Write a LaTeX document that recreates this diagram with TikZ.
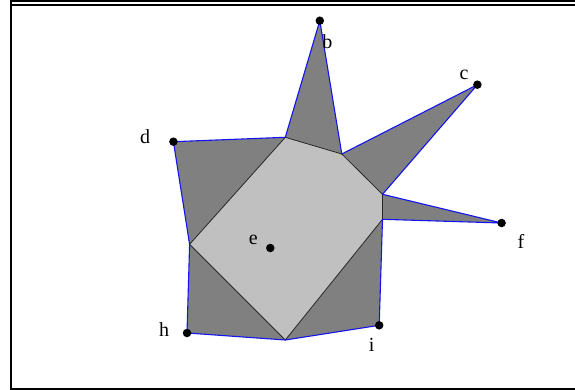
\documentclass[tikz,border=0pt]{standalone}
\usepackage{fontspec}
\setmainfont{Liberation Serif}
\definecolor{darkfill}{RGB}{128,128,128}
\definecolor{lightfill}{RGB}{192,192,192}
\definecolor{edgeblue}{RGB}{20,20,240}
\begin{document}
\begin{tikzpicture}[x=1pt,y=-1pt,
  dot/.style={circle,fill=black,inner sep=0pt,minimum size=8.5pt},
  lbl/.style={inner sep=0pt,font=\fontsize{20}{20}\selectfont},
  frameline/.style={line width=2pt,black},
  outline/.style={edgeblue,line width=1.1pt,line join=round},
  inner/.style={black!85,line width=0.8pt}]
\useasboundingbox (0,0) rectangle (575,390);
\fill[white] (0,0) rectangle (575,390);
% frame
\draw[frameline] (10,1.5) -- (576,1.5);
\draw[frameline] (12,5.2) -- (576,5.2);
\draw[frameline] (11,0.5) -- (11,389);
\draw[frameline] (10,389) -- (576,389);
% vertices of the light polygon
\coordinate (p1) at (285.3,137.3);
\coordinate (p2) at (341.8,154);
\coordinate (p3) at (382.5,194.3);
\coordinate (p4) at (382.5,219.3);
\coordinate (p5) at (285.3,340);
\coordinate (p6) at (189.6,244.3);
% outer points
\coordinate (b) at (319.8,20.7);
\coordinate (c) at (477.4,84.7);
\coordinate (d) at (173.4,141.7);
\coordinate (e) at (270.3,248);
\coordinate (f) at (501.6,223);
\coordinate (h) at (187,333);
\coordinate (i) at (379.2,325.3);
% dark pieces
\fill[darkfill] (d) -- (p1) -- (b) -- (p2) -- (c) -- (p3) -- (f) -- (p4) -- (i) -- (p5) -- (h) -- (p6) -- cycle;
% light polygon
\fill[lightfill] (p1) -- (p2) -- (p3) -- (p4) -- (p5) -- (p6) -- cycle;
\draw[inner] (p1) -- (p2) -- (p3) -- (p4) -- (p5) -- (p6) -- cycle;
% blue outline
\draw[outline] (d) -- (p1) -- (b) -- (p2) -- (c) -- (p3) -- (f) -- (p4) -- (i) -- (p5) -- (h) -- (p6) -- cycle;
% dots
\node[dot] (nb) at (b) {};
\node[dot] (nc) at (c) {};
\node[dot] (nd) at (d) {};
\node[dot] (ne) at (e) {};
\node[dot] (nf) at (f) {};
\node[dot] (nh) at (h) {};
\node[dot] (ni) at (i) {};
% labels
\node[lbl] (lb) at (327.3,41.5) {b};
\node[lbl] (lc) at (464,75) {c};
\node[lbl] (ld) at (145,136.5) {d};
\node[lbl] (le) at (253.3,239.5) {e};
\node[lbl] (lf) at (521,241.5) {f};
\node[lbl] (lh) at (164,330) {h};
\node[lbl] (li) at (371.7,344.5) {i};
\end{tikzpicture}
\end{document}
